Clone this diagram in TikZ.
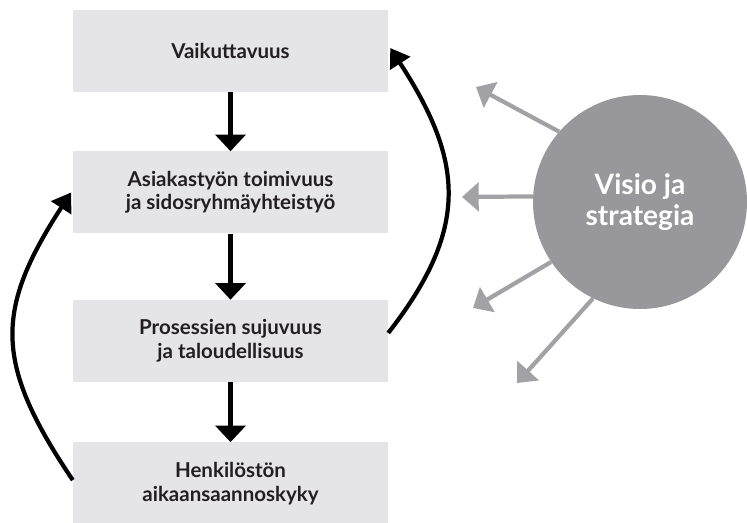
\documentclass[tikz,border=0pt]{standalone}
\usepackage{fontspec}
\setmainfont{Lato}
\usetikzlibrary{shapes.geometric, arrows.meta, positioning}
\definecolor{boxgray}{RGB}{229,229,231}
\definecolor{visiogray}{RGB}{152,151,156}
\definecolor{raygray}{RGB}{162,161,166}
\definecolor{inkblack}{RGB}{35,31,32}
\tikzstyle{perspective} = [rectangle, minimum width=9.45cm, minimum height=2.46cm, text centered, align=center, fill=boxgray, text=inkblack, font=\fontsize{17.5}{20}\selectfont\bfseries]
\tikzstyle{visionball} = [circle, minimum size=6.42cm, inner sep=0pt, fill=visiogray, text=white, align=center, font=\fontsize{24}{27}\selectfont\bfseries]
\tikzstyle{arrow} = [line width=4.25pt, -{Triangle[width=0.9cm,length=0.5cm]}]
\tikzstyle{looparrow} = [line width=3.6pt, -{Triangle[width=0.7cm,length=0.55cm]}]
\tikzstyle{rayarrow} = [raygray, line width=3.6pt, -{Triangle[width=0.85cm,length=0.5cm]}]

\begin{document}
\begin{tikzpicture}
        \useasboundingbox (0,0) rectangle (22.41,15.66);

        \node (impact) [perspective] at (6.915,14.13) {Vaikuttavuus};
        \node (customer) [perspective, below=1.77cm of impact] {Asiakastyön toimivuus\\ja sidosryhmäyhteistyö};
        \node (process) [perspective, below=1.98cm of customer] {Prosessien sujuvuus\\ja taloudellisuus};
        \node (staff) [perspective, below=1.8cm of process] {Henkilöstön\\aikaansaannoskyky};

        \node (vision) [visionball] at (19.2,9.6) {Visio ja\\strategia};
        \coordinate (ray1) at (14.28,13.05);
        \coordinate (ray2) at (13.86,9.75);
        \coordinate (ray3) at (14.19,6.42);
        \coordinate (ray4) at (15.51,4.17);

        % Arrows
        \draw [arrow] (impact) -- (customer);
        \draw [arrow] (customer) -- (process);
        \draw [arrow] (process) -- (staff);
        \draw [looparrow] ([yshift=0.24cm]process.east) to[out=52, in=-57, looseness=1.2] ([shift={(0.06cm,0.09cm)}]impact.east);
        \draw [looparrow] ([yshift=0.1cm]staff.west) to[out=124, in=-123, looseness=1.25] ([xshift=-0.05cm]customer.west);
        \draw [rayarrow] (vision.139.5) -- (ray1);
        \draw [rayarrow] (vision.177.3) -- (ray2);
        \draw [rayarrow] (vision.214.7) -- (ray3);
        \draw [rayarrow] (vision.244.4) -- (ray4);

\end{tikzpicture}
\end{document}
